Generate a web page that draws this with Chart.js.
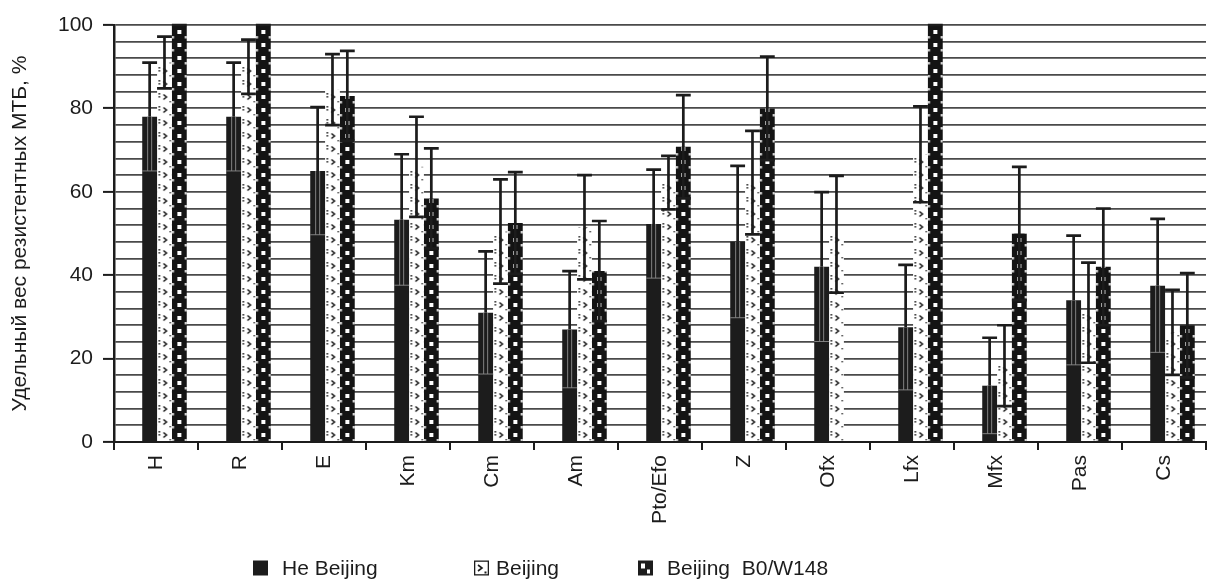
<!DOCTYPE html>
<html>
<head>
<meta charset="utf-8">
<script src="https://cdn.jsdelivr.net/npm/chart.js@4.4.1/dist/chart.umd.min.js"></script>
<style>
  html, body { margin: 0; padding: 0; background: #fff; overflow: hidden; }
  #wrap { width: 1208px; height: 581px; }
</style>
</head>
<body>
<div id="wrap"><canvas id="chart" width="1208" height="581"></canvas></div>
<script>
// Drugs on the category axis
const categories = ['H', 'R', 'E', 'Km', 'Cm', 'Am', 'Pto/Efo', 'Z', 'Ofx', 'Lfx', 'Mfx', 'Pas', 'Cs'];

// Series names
const seriesLabels = ['Не Beijing', 'Beijing', 'Beijing  B0/W148'];

// Share of resistant strains, % (bar heights)
const nonBeijing = [78, 78, 65, 53.3, 31, 27, 52.3, 48, 42, 27.5, 13.5, 34, 37.5];
const beijing    = [91, 90, 84.5, 66, 50.5, 51.5, 62.2, 62.2, 49.8, 69, 18.3, 31, 26.3];
const beijingB0  = [100, 100, 83, 58.4, 52.5, 41, 70.8, 80, null, 100, 50, 42, 28];

// Half-width of the error bars, %
const nonBeijingErr = [13, 13, 15.3, 15.7, 14.7, 14, 13, 18.2, 17.9, 15, 11.5, 15.5, 16];
const beijingErr    = [6.2, 6.5, 8.5, 12, 12.5, 12.5, 6.4, 12.4, 14, 11.5, 9.7, 12, 10.2];
const beijingB0Err  = [0, 0, 10.8, 12, 12.2, 12, 12.4, 12.4, null, 0, 16, 14, 12.5];

// Labelled values on the y axis
const yTickLabels = [0, 20, 40, 60, 80, 100];
const yTitle = 'Удельный вес резистентных МТБ, %';

const FONT = '"Liberation Sans", Arial, Helvetica, sans-serif';
const INK = '#1c1c1c';
Chart.defaults.font.family = FONT;
Chart.defaults.color = INK;

// ---- fill patterns (tile is one category wide, bar centred at x = 42) ----
const TILE_W = 84, TILE_H = 13, TILE_CX = 42;

function dottedTile() {
  const c = document.createElement('canvas');
  c.width = TILE_W; c.height = TILE_H;
  const g = c.getContext('2d');
  g.fillStyle = '#fff';
  g.fillRect(0, 0, TILE_W, TILE_H);
  g.strokeStyle = '#111';
  g.lineWidth = 1.5;
  g.beginPath();
  g.moveTo(TILE_CX - 1, 3.5);
  g.lineTo(TILE_CX + 2, 6);
  g.lineTo(TILE_CX - 1, 8.5);
  g.stroke();
  g.fillStyle = '#222';
  g.fillRect(TILE_CX - 6, 2, 1.6, 1.6);
  g.fillRect(TILE_CX - 6, 5, 1.6, 1.6);
  g.fillRect(TILE_CX + 5, 10, 1.4, 1.4);
  return c;
}

function checkerTile() {
  const c = document.createElement('canvas');
  c.width = TILE_W; c.height = TILE_H;
  const g = c.getContext('2d');
  g.fillStyle = '#141414';
  g.fillRect(0, 0, TILE_W, TILE_H);
  g.fillStyle = '#fff';
  g.fillRect(TILE_CX - 2, 4, 4, 4);
  g.fillRect(TILE_CX - 7.5, 10, 2, 2.5);
  g.fillRect(TILE_CX + 5.5, 10, 2, 2.5);
  return c;
}

const ctx = document.getElementById('chart').getContext('2d');
const dottedFill = ctx.createPattern(dottedTile(), 'repeat');
const checkerFill = ctx.createPattern(checkerTile(), 'repeat');

const toPoints = arr => arr.map((v, i) => ({ x: i, y: v }));

// keep each pattern aligned with its column of bars
const patternAnchor = {
  id: 'patternAnchor',
  beforeDatasetsDraw(chart) {
    chart.data.datasets.forEach((ds, i) => {
      const fill = ds.backgroundColor;
      if (!(fill instanceof CanvasPattern)) return;
      const meta = chart.getDatasetMeta(i);
      const first = meta.data.find(el => el && isFinite(el.x));
      if (first) fill.setTransform(new DOMMatrix([1, 0, 0, 1, first.x - TILE_CX, 0]));
    });
  }
};

// vertical error bars with caps
const errorBars = {
  id: 'errorBars',
  afterDatasetsDraw(chart) {
    const c = chart.ctx;
    const ys = chart.scales.y;
    chart.data.datasets.forEach((ds, i) => {
      const meta = chart.getDatasetMeta(i);
      meta.data.forEach((bar, j) => {
        const v = ds.data[j].y;
        const e = ds.errors[j];
        if (v == null || e == null) return;
        const x = bar.x;
        const half = bar.width / 2;
        const yHi = ys.getPixelForValue(Math.min(v + e, 100));
        const yLo = ys.getPixelForValue(Math.max(v - e, 0));
        const yTop = ys.getPixelForValue(v);
        c.save();
        c.lineCap = 'butt';
        if (ds.solid) {
          // part hidden inside a dark bar shows as faint outlines
          c.strokeStyle = 'rgba(140,140,140,0.9)';
          c.lineWidth = 1;
          c.beginPath();
          c.moveTo(x - 2, yTop); c.lineTo(x - 2, yLo);
          c.moveTo(x + 2, yTop); c.lineTo(x + 2, yLo);
          c.moveTo(x - half, yLo); c.lineTo(x + half, yLo);
          c.stroke();
          c.strokeStyle = INK;
          c.lineWidth = 2.7;
          c.beginPath();
          c.moveTo(x, yTop); c.lineTo(x, yHi);
          c.moveTo(x - half, yHi); c.lineTo(x + half, yHi);
          c.stroke();
        } else {
          c.strokeStyle = INK;
          c.lineWidth = 2.7;
          c.beginPath();
          c.moveTo(x, yLo); c.lineTo(x, yHi);
          c.moveTo(x - half, yHi); c.lineTo(x + half, yHi);
          c.moveTo(x - half, yLo); c.lineTo(x + half, yLo);
          c.stroke();
        }
        c.restore();
      });
    });
  }
};

// legend row under the axis labels
const legendLayout = { y: 568, box: 15, boxX: [253, 474, 638], textX: [282, 496, 667] };
const legendRow = {
  id: 'legendRow',
  afterDraw(chart) {
    const c = chart.ctx;
    const L = legendLayout;
    const b = L.box;
    c.save();
    chart.data.datasets.forEach((ds, i) => {
      const bx = L.boxX[i], by = L.y - b / 2;
      if (ds.legendStyle === 'solid') {
        c.fillStyle = INK;
        c.fillRect(bx, by, b, b);
      } else if (ds.legendStyle === 'dotted') {
        c.fillStyle = '#fff';
        c.fillRect(bx, by, b, b);
        c.strokeStyle = INK; c.lineWidth = 1.3;
        c.strokeRect(bx + 0.65, by + 0.65, b - 1.3, b - 1.3);
        c.lineWidth = 1.6;
        c.beginPath();
        c.moveTo(bx + 4, by + 4.5); c.lineTo(bx + 8, by + 7.5); c.lineTo(bx + 4, by + 10.5);
        c.stroke();
        c.fillStyle = INK;
        c.fillRect(bx + 10.5, by + 11, 2, 2);
      } else {
        c.fillStyle = INK;
        c.fillRect(bx, by, b, b);
        c.fillStyle = '#fff';
        c.fillRect(bx + 3, by + 3, 4, 5);
        c.fillRect(bx + 9, by + 9, 3, 4);
      }
      c.fillStyle = INK;
      c.font = '21px ' + FONT;
      c.textBaseline = 'middle';
      c.textAlign = 'left';
      c.fillText(ds.label, L.textX[i], L.y + 1);
    });
    c.restore();
  }
};

new Chart(ctx, {
  type: 'bar',
  data: {
    labels: categories,
    datasets: [
      { label: seriesLabels[0], data: toPoints(nonBeijing), errors: nonBeijingErr,
        backgroundColor: INK, solid: true, legendStyle: 'solid', xAxisID: 'xb' },
      { label: seriesLabels[1], data: toPoints(beijing), errors: beijingErr,
        backgroundColor: dottedFill, legendStyle: 'dotted', xAxisID: 'xb' },
      { label: seriesLabels[2], data: toPoints(beijingB0), errors: beijingB0Err,
        backgroundColor: checkerFill, legendStyle: 'checker', xAxisID: 'xb' }
    ]
  },
  options: {
    responsive: false,
    animation: false,
    devicePixelRatio: 1,
    layout: { padding: { top: 25, right: 2, bottom: 39, left: 0 } },
    datasets: { bar: { categoryPercentage: 0.53, barPercentage: 1, borderWidth: 0 } },
    plugins: { legend: { display: false }, tooltip: { enabled: false } },
    scales: {
      x: {
        type: 'category',
        position: 'bottom',
        offset: true,
        grid: { offset: true, drawOnChartArea: false, color: INK, lineWidth: 2, tickLength: 8 },
        border: { color: INK, width: 2 },
        ticks: { minRotation: 90, maxRotation: 90, autoSkip: false, padding: 5, color: INK,
                 font: { size: 21, family: FONT } },
        afterFit(s) { s.height = 100; }
      },
      xb: {
        type: 'linear',
        display: false,
        offset: false,
        grace: 0,
        grid: { offset: false },
        min: -0.5 - 0.101,
        max: 12.5 - 0.101
      },
      y: {
        min: 0,
        max: 100,
        ticks: {
          stepSize: 4,
          autoSkip: false,
          padding: 10,
          color: INK,
          font: { size: 21, family: FONT },
          callback: v => (yTickLabels.includes(v) ? String(v) : '')
        },
        grid: {
          color: '#4a4a4a',
          lineWidth: 1.8,
          tickLength: 11,
          tickColor: c => (c.tick && yTickLabels.includes(c.tick.value) ? INK : 'rgba(0,0,0,0)'),
          tickWidth: 2
        },
        border: { color: INK, width: 2.5 },
        title: { display: true, text: yTitle, color: INK, font: { size: 21, family: FONT },
                 padding: { top: 8, bottom: 0 } },
        afterFit(s) { s.width = 114; }
      }
    }
  },
  plugins: [patternAnchor, errorBars, legendRow]
});
</script>
</body>
</html>
